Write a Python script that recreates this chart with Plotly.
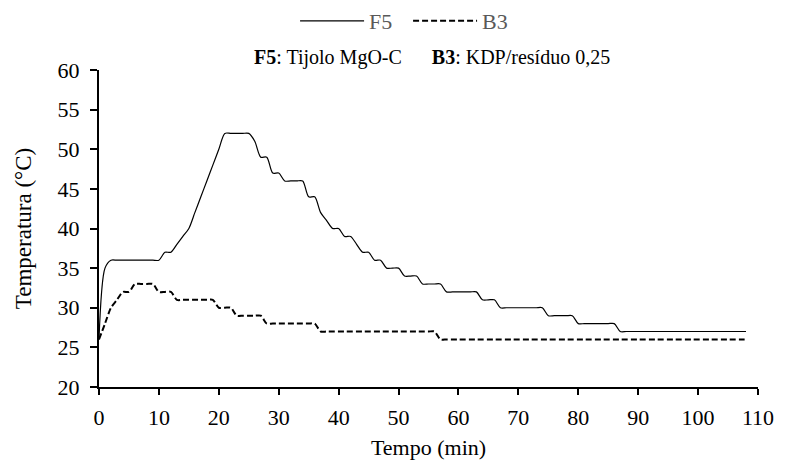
import plotly.graph_objects as go

time_min = list(range(0, 109))

f5_temp = [26, 35, 36, 36, 36, 36, 36, 36, 36, 36,
           36, 37, 37, 38, 39, 40, 42, 44, 46, 48,
           50, 52, 52, 52, 52, 52, 51, 49, 49, 47,
           47, 46, 46, 46, 46, 44, 44, 42, 41, 40,
           40, 39, 39, 38, 37, 37, 36, 36, 35, 35,
           35, 34, 34, 34, 33, 33, 33, 33, 32, 32,
           32, 32, 32, 32, 31, 31, 31, 30, 30, 30,
           30, 30, 30, 30, 30, 29, 29, 29, 29, 29,
           28, 28, 28, 28, 28, 28, 28, 27, 27, 27,
           27, 27, 27, 27, 27, 27, 27, 27, 27, 27,
           27, 27, 27, 27, 27, 27, 27, 27, 27]

b3_temp = [26, 28, 30, 31, 32, 32, 33, 33, 33, 33,
           32, 32, 32, 31, 31, 31, 31, 31, 31, 31,
           30, 30, 30, 29, 29, 29, 29, 29, 28, 28,
           28, 28, 28, 28, 28, 28, 28, 27, 27, 27,
           27, 27, 27, 27, 27, 27, 27, 27, 27, 27,
           27, 27, 27, 27, 27, 27, 27, 26, 26, 26,
           26, 26, 26, 26, 26, 26, 26, 26, 26, 26,
           26, 26, 26, 26, 26, 26, 26, 26, 26, 26,
           26, 26, 26, 26, 26, 26, 26, 26, 26, 26,
           26, 26, 26, 26, 26, 26, 26, 26, 26, 26,
           26, 26, 26, 26, 26, 26, 26, 26, 26]

x_ticks = list(range(0, 111, 10))
y_ticks = list(range(20, 61, 5))

FONT = "Liberation Serif"

fig = go.Figure()
fig.add_trace(go.Scatter(
    x=time_min, y=f5_temp, name="F5", mode="lines",
    line=dict(color="black", width=1.2, shape="spline", smoothing=0.8),
))
fig.add_trace(go.Scatter(
    x=time_min, y=b3_temp, name="B3", mode="lines",
    line=dict(color="black", width=2, dash="6px,3px", shape="spline", smoothing=0.8),
))

fig.update_layout(
    width=786, height=468,
    margin=dict(l=99, r=20, t=70, b=79),
    paper_bgcolor="white", plot_bgcolor="white",
    font=dict(family=FONT, size=20, color="black"),
    showlegend=True,
    legend=dict(
        orientation="h", x=0.469, xanchor="center", y=0.955, yanchor="middle",
        yref="container", font=dict(family=FONT, size=22, color="#595959"),
        itemwidth=64, entrywidth=34, bgcolor="rgba(0,0,0,0)",
    ),
    annotations=[dict(
        text="<b>F5</b>: Tijolo MgO-C&nbsp;&nbsp;&nbsp;&nbsp;&nbsp;&nbsp;<b>B3</b>: KDP/resíduo 0,25",
        xref="paper", yref="paper", x=0.506, y=1.04, xanchor="center", yanchor="middle",
        showarrow=False, font=dict(family=FONT, size=20, color="black"),
    )],
    xaxis=dict(
        range=[0, 110], tickvals=x_ticks, showgrid=False, zeroline=False,
        showline=True, linecolor="black", linewidth=2,
        ticks="outside", ticklen=6, tickwidth=2, tickcolor="black",
        ticklabelstandoff=4,
        tickfont=dict(family=FONT, size=22, color="black"),
        title=dict(text="Tempo (min)", font=dict(family=FONT, size=22, color="black"), standoff=10),
    ),
    yaxis=dict(
        range=[20, 60], tickvals=y_ticks, showgrid=False, zeroline=False,
        showline=True, linecolor="black", linewidth=2,
        ticks="outside", ticklen=7, tickwidth=2, tickcolor="black",
        ticklabelstandoff=6,
        tickfont=dict(family=FONT, size=22, color="black"),
        title=dict(text="Temperatura (°C)", font=dict(family=FONT, size=23, color="black"), standoff=20),
    ),
)

fig.write_html("out.html")
